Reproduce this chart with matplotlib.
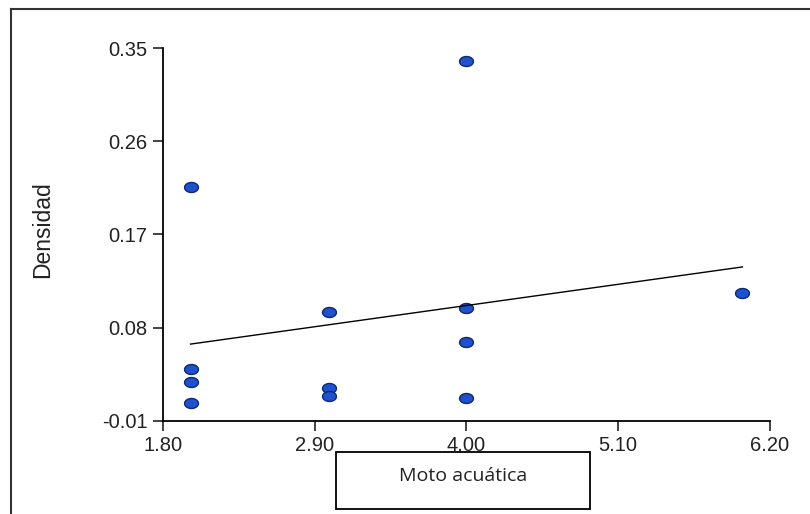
import numpy as np
import matplotlib
matplotlib.use("Agg")
import matplotlib.pyplot as plt
from matplotlib.path import Path
from matplotlib.patches import Rectangle
from matplotlib.lines import Line2D

# datos
moto = [2, 2, 2, 2, 3, 3, 3, 4, 4, 4, 4, 6]
densidad = [0.216, 0.040, 0.028, 0.007, 0.095, 0.022, 0.014,
            0.337, 0.099, 0.066, 0.012, 0.114]
xticks = [1.80, 2.90, 4.00, 5.10, 6.20]
yticks = [-0.01, 0.08, 0.17, 0.26, 0.35]

plt.rcParams['font.family'] = ['Liberation Sans', 'DejaVu Sans']

fig = plt.figure(figsize=(8.1, 5.14), dpi=100)
ax = fig.add_axes([163/810, 1-421/514, (770-163)/810, (421-48)/514])

# marcador eliptico
t = np.linspace(0, 2*np.pi, 40)
elipse = Path(np.column_stack([np.cos(t), 0.72*np.sin(t)]))

ax.plot(moto, densidad, linestyle='none', marker=elipse, markersize=10,
        markerfacecolor='#1f50d0', markeredgecolor='#0c2a6e', markeredgewidth=1)

# recta de regresion
b, a = np.polyfit(moto, densidad, 1)
xs = np.array([min(moto), max(moto)])
ax.plot(xs, a + b*xs, color='black', linewidth=1.0)

ax.set_xlim(1.80, 6.20)
ax.set_ylim(-0.01, 0.35)
ax.set_xticks(xticks)
ax.set_xticklabels(['%.2f' % v for v in xticks])
ax.set_yticks(yticks)
ax.set_yticklabels(['%.2f' % v for v in yticks])
ax.tick_params(direction='out', length=7, width=1.2, labelsize=14.5, colors='#222222', pad=4)
ax.spines['top'].set_visible(False)
ax.spines['right'].set_visible(False)
ax.spines['left'].set_linewidth(1.3)
ax.spines['bottom'].set_linewidth(1.3)

fig.text(43/810, 1-230/514, 'Densidad', rotation=90, fontsize=16.5,
         ha='center', va='center', color='#222222')

# caja del titulo del eje x
fig.add_artist(Rectangle((336/810, 1-509/514), 254/810, 57/514,
                         transform=fig.transFigure, fill=False,
                         edgecolor='black', linewidth=1.3))
fig.text(463/810, 1-476/514, 'Moto acuática', fontsize=14,
         family=['Open Sans', 'DejaVu Sans'], ha='center', va='center', color='#222222')

# marco exterior
fig.add_artist(Line2D([11/810, 11/810], [0, 1-9/514], transform=fig.transFigure,
                      color='#333333', linewidth=1.5))
fig.add_artist(Line2D([11/810, 1], [1-9/514, 1-9/514], transform=fig.transFigure,
                      color='#333333', linewidth=1.5))

fig.savefig('out.png', dpi=100, facecolor='white')
